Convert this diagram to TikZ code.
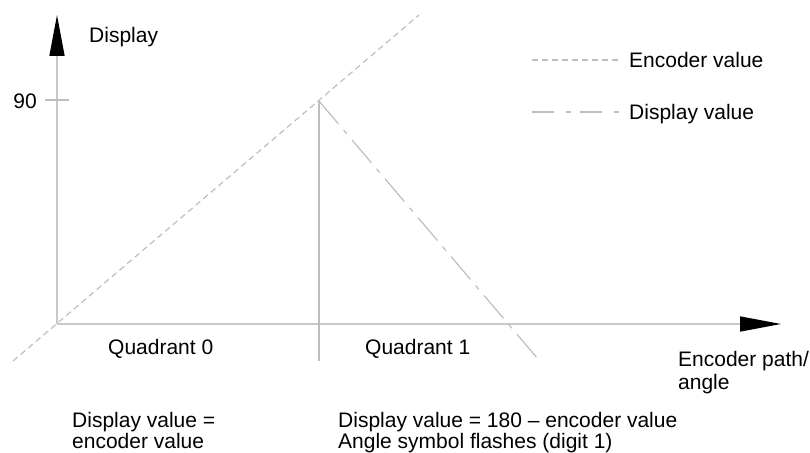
\documentclass[tikz,border=0pt]{standalone}
\usepackage{fontspec}
\setmainfont{Liberation Sans}
\usetikzlibrary{arrows.meta}
\definecolor{axisgray}{RGB}{200,200,200}
\definecolor{lingray}{RGB}{190,190,190}
\begin{document}
\begin{tikzpicture}[x=1pt,y=-1pt,
  lbl/.style={inner sep=0pt, font=\fontsize{21}{21}\selectfont, anchor=base west},
  axisline/.style={draw=axisgray, line width=1.5pt},
  encline/.style={draw=lingray, line width=1.2pt, dash pattern=on 6pt off 4pt},
  displine/.style={draw=lingray, line width=1.2pt, dash pattern=on 30pt off 8pt on 5pt off 8pt},
  solidline/.style={draw=lingray, line width=1.1pt},
  axtip/.style={-{Triangle[length=41pt,width=15pt,color=black]}}]
\useasboundingbox (0,0) rectangle (810,452);
% key points
\coordinate (O) at (57,324);
\coordinate (ytop) at (57,15);
\coordinate (xend) at (781,324);
\coordinate (peak) at (319,101);
\coordinate (encA) at (13,361);
\coordinate (encB) at (419,15);
\coordinate (dispEnd) at (538,359);
\coordinate (qbot) at (319,361);
\coordinate (tickL) at (45,100);
\coordinate (tickR) at (69,100);
\coordinate (leg1a) at (532,60);
\coordinate (leg1b) at (620,60);
\coordinate (leg2a) at (532,112);
\coordinate (leg2b) at (620,112);
% axes
\draw[axisline, axtip] (O) -- (ytop);
\draw[axisline, axtip] (O) -- (xend);
\draw[solidline] (tickL) -- (tickR);
% plots
\draw[encline] (encA) -- (encB);
\draw[solidline] (peak) -- (qbot);
\draw[displine] (peak) -- (dispEnd);
% legend
\draw[encline] (leg1a) -- (leg1b);
\draw[displine, dash pattern=on 22pt off 12pt on 5pt off 9pt] (leg2a) -- (leg2b);
% labels
\node[lbl] (ydisp) at (89,43) {Display};
\node[lbl, anchor=base east] (n90) at (37,108) {90};
\node[lbl] (lenc) at (629,67) {Encoder value};
\node[lbl] (ldisp) at (629,119) {Display value};
\node[lbl] (q0) at (108,354) {Quadrant 0};
\node[lbl] (q1) at (365,354) {Quadrant 1};
\node[lbl] (xl1) at (678,366) {Encoder path/};
\node[lbl] (xl2) at (678,389) {angle};
\node[lbl] (b1a) at (72,427) {Display value =};
\node[lbl] (b1b) at (72,448) {encoder value};
\node[lbl] (b2a) at (338,427) {Display value = 180 – encoder value};
\node[lbl] (b2b) at (338,448) {Angle symbol flashes (digit 1)};
\end{tikzpicture}
\end{document}
